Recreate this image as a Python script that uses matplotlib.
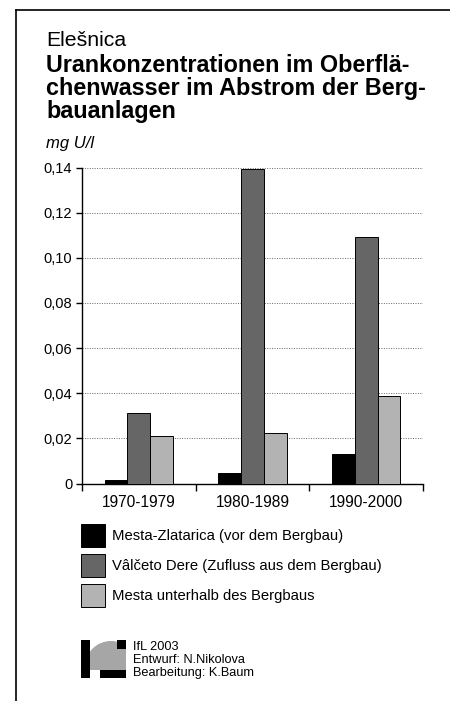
import matplotlib
matplotlib.use("Agg")
import matplotlib.pyplot as plt
from matplotlib.patches import Rectangle, Circle
from matplotlib.lines import Line2D

# ------------------------------------------------------------------ #
#                               DATA                                 #
# ------------------------------------------------------------------ #
periods = ["1970-1979", "1980-1989", "1990-2000"]
series_names = [
    "Mesta-Zlatarica (vor dem Bergbau)",
    "Vâlčeto Dere (Zufluss aus dem Bergbau)",
    "Mesta unterhalb des Bergbaus",
]
mesta_zlatarica = [0.0015, 0.0045, 0.0132]
valceto_dere = [0.0311, 0.1395, 0.1093]
mesta_unterhalb = [0.0210, 0.0225, 0.0389]
y_ticks = [0, 0.02, 0.04, 0.06, 0.08, 0.10, 0.12, 0.14]
y_ticklabels = ["0", "0,02", "0,04", "0,06", "0,08", "0,10", "0,12", "0,14"]

colors = ["#000000", "#666666", "#b3b3b3"]

# ------------------------------------------------------------------ #
#                              FIGURE                                #
# ------------------------------------------------------------------ #
plt.rcParams["font.family"] = ["Liberation Sans", "DejaVu Sans"]
W, H = 450, 701
fig = plt.figure(figsize=(W / 100, H / 100), dpi=100)


def fx(px):
    return px / W


def fy(py):
    return 1 - py / H


# frame lines (left and top)
fig.add_artist(Line2D([fx(16), fx(16)], [fy(10), 0], color="black", lw=1.2))
fig.add_artist(Line2D([fx(16), 1], [fy(10), fy(10)], color="black", lw=1.2))

# titles
fig.text(fx(46), fy(46), "Elešnica", fontsize=15.3, va="baseline")
fig.text(fx(46), fy(72), "Urankonzentrationen im Oberflä-", fontsize=16.8,
         fontweight="bold", va="baseline")
fig.text(fx(46), fy(95), "chenwasser im Abstrom der Berg-", fontsize=16.8,
         fontweight="bold", va="baseline")
fig.text(fx(46), fy(118), "bauanlagen", fontsize=16.8, fontweight="bold",
         va="baseline")
fig.text(fx(46), fy(148), "mg U/l", fontsize=12, style="italic",
         va="baseline")

# ------------------------------------------------------------------ #
#                               BARS                                 #
# ------------------------------------------------------------------ #
ax = fig.add_axes([fx(82), fy(483.5), fx(423) - fx(82), fy(167.5) - fy(483.5)])

bar_w = 0.2
for j, (vals, name) in enumerate(zip([mesta_zlatarica, valceto_dere, mesta_unterhalb],
                                     series_names)):
    xs = [i + 0.5 + (j - 1) * bar_w for i in range(len(periods))]
    ax.bar(xs, vals, width=bar_w, color=colors[j], edgecolor="black",
           linewidth=0.7, label=name, zorder=3)

ax.set_xlim(0, 3)
ax.set_ylim(0, 0.14)
ax.set_yticks(y_ticks)
ax.set_yticklabels(y_ticklabels, fontsize=10.5)
ax.set_xticks([0, 1, 2, 3])
ax.set_xticklabels([])
ax.set_xticks([0.5, 1.5, 2.5], minor=True)
ax.set_xticklabels(periods, minor=True, fontsize=11.2)
ax.tick_params(axis="x", which="minor", length=0, pad=8)
ax.tick_params(axis="x", which="major", direction="out", length=5, width=1)
ax.tick_params(axis="y", direction="out", length=4, width=1, pad=3)

ax.yaxis.grid(True, linestyle=(0, (1, 1.5)), color="0.4", linewidth=0.7)
ax.set_axisbelow(True)
for side in ["top", "right"]:
    ax.spines[side].set_visible(False)
ax.spines["left"].set_linewidth(1)
ax.spines["bottom"].set_linewidth(1)

# ------------------------------------------------------------------ #
#                              LEGEND                                #
# ------------------------------------------------------------------ #
for k, name in enumerate(series_names):
    top = 524 + k * 30
    fig.add_artist(Rectangle((fx(81), fy(top + 23)), fx(24), 23 / H,
                             facecolor=colors[k], edgecolor="black", lw=0.7))
    fig.text(fx(112), fy(top + 12), name, fontsize=10.7, va="center")

# ------------------------------------------------------------------ #
#                         LOGO AND CREDITS                           #
# ------------------------------------------------------------------ #
# small axes in pixel units: x 81..126, y 640..678
lax = fig.add_axes([fx(81), fy(678), fx(45), 38 / H])
lax.set_xlim(0, 45)
lax.set_ylim(0, 38)
lax.axis("off")
clip = Rectangle((9, 8), 36, 30, transform=lax.transData)
globe = Circle((30, 11), 26, facecolor="#a6a6a6", edgecolor="none")
lax.add_patch(globe)
globe.set_clip_path(clip)
lax.add_patch(Rectangle((0, 0), 9, 38, facecolor="black", edgecolor="none"))
lax.add_patch(Rectangle((36, 29), 9, 9, facecolor="black", edgecolor="none"))
lax.add_patch(Rectangle((19, 0), 26, 8, facecolor="black", edgecolor="none"))

fig.text(fx(133), fy(650), "IfL 2003", fontsize=9.2, va="baseline")
fig.text(fx(133), fy(663), "Entwurf: N.Nikolova", fontsize=9.2, va="baseline")
fig.text(fx(133), fy(676), "Bearbeitung: K.Baum", fontsize=9.2, va="baseline")

fig.savefig("out.png", dpi=100)
